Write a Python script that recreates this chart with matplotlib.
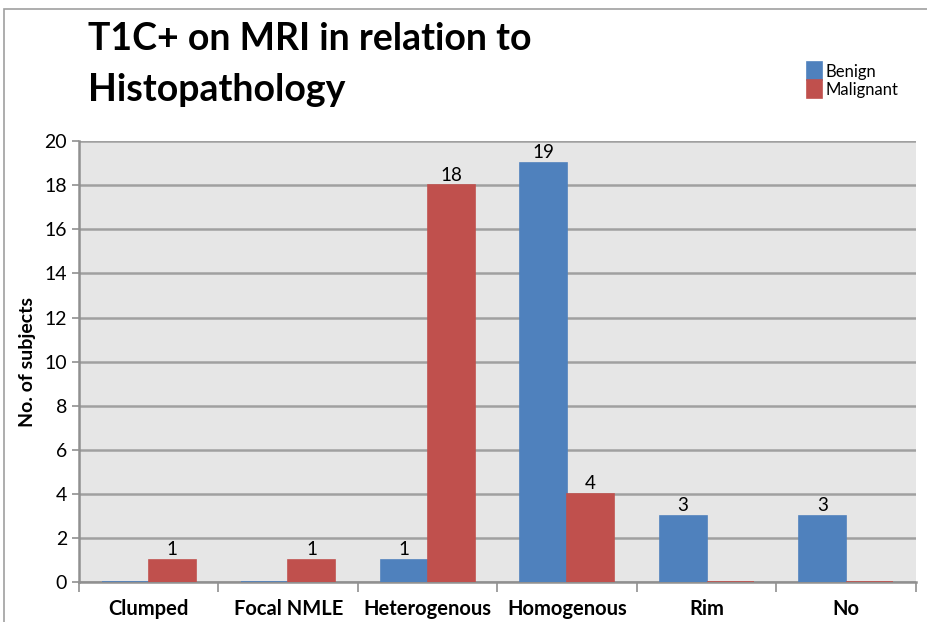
import matplotlib.pyplot as plt
import numpy as np
from matplotlib.patches import Rectangle

categories = ["Clumped", "Focal NMLE", "Heterogenous", "Homogenous", "Rim", "No"]
benign = [0, 0, 1, 19, 3, 3]
malignant = [1, 1, 18, 4, 0, 0]

BLUE = "#4F81BD"
RED = "#C0504D"

plt.rcParams["font.family"] = ["Lato", "DejaVu Sans"]

fig = plt.figure(figsize=(9.27, 6.22), dpi=100)
ax = fig.add_axes([0.0852, 0.0643, 0.9028, 0.7087])

x = np.arange(len(categories))
w = 0.337
b1 = ax.bar(x - w / 2, benign, w, color=BLUE, edgecolor=BLUE, linewidth=1.2, label="Benign", zorder=3)
b2 = ax.bar(x + w / 2, malignant, w, color=RED, edgecolor=RED, linewidth=1.2, label="Malignant", zorder=3)

for bars, vals in ((b1, benign), (b2, malignant)):
    for rect, v in zip(bars, vals):
        if v > 0:
            ax.text(rect.get_x() + rect.get_width() / 2, v + 0.08, str(v),
                    ha="center", va="bottom", fontsize=13.5, zorder=4)

ax.set_xlim(-0.5, len(categories) - 0.5)
ax.set_ylim(0, 20)
ax.set_yticks(range(0, 21, 2))
ax.set_facecolor("#E6E6E6")
ax.grid(axis="y", color="#A0A0A0", linewidth=1.8, zorder=1)
ax.set_axisbelow(True)

ax.set_xticks(x)
ax.set_xticklabels(categories, fontsize=14.5, fontweight="bold")
ax.set_xticks(np.arange(-0.5, len(categories)), minor=True)
ax.tick_params(axis="x", which="major", length=0, pad=12)
ax.tick_params(axis="x", which="minor", length=7, color="#909090", width=1.2)
ax.tick_params(axis="y", length=5, color="#909090", width=1.2, labelsize=14)

for side in ("top", "right"):
    ax.spines[side].set_visible(False)
ax.spines["left"].set_color("#909090")
ax.spines["left"].set_linewidth(1.8)
ax.spines["bottom"].set_color("#909090")
ax.spines["bottom"].set_linewidth(1.8)

ax.set_ylabel("No. of subjects", fontsize=14, fontweight="bold", labelpad=6)

fig.text(0.095, 0.965, "T1C+ on MRI in relation to\nHistopathology", fontsize=27,
         fontweight="bold", ha="left", va="top", linespacing=1.6)

fig.legend(handles=[b1, b2], loc="upper left", bbox_to_anchor=(0.862, 0.913),
           frameon=False, fontsize=12, handlelength=0.9, handleheight=1.2,
           handletextpad=0.2, labelspacing=0.05, borderpad=0)

fig.patches.append(Rectangle((0.004, -0.01), 1.2, 0.995, transform=fig.transFigure,
                             fill=False, edgecolor="#A0A0A0", linewidth=1.2))

fig.savefig("out.png", dpi=100)
